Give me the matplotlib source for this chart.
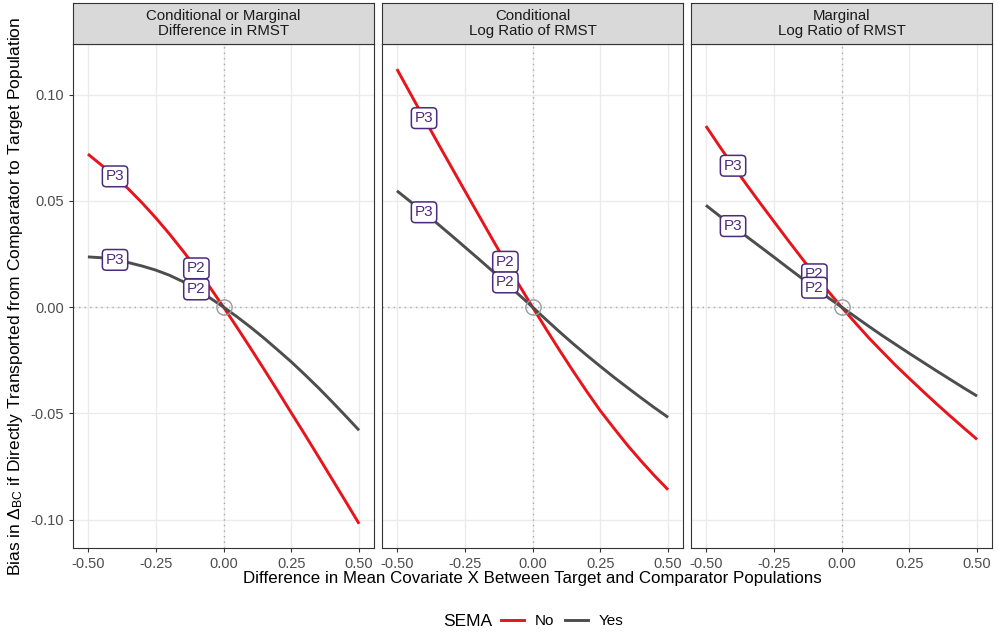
import numpy as np
import matplotlib.pyplot as plt
from matplotlib.lines import Line2D

plt.rcParams["font.family"] = ["Liberation Sans", "DejaVu Sans"]
plt.rcParams["mathtext.fontset"] = "custom"
plt.rcParams["mathtext.rm"] = "Liberation Sans"
plt.rcParams["mathtext.it"] = "Liberation Sans:italic"

# mean covariate difference
x = [-0.5, -0.45, -0.4, -0.35, -0.3, -0.25, -0.2, -0.15, -0.1, -0.05, 0.0,
     0.05, 0.1, 0.15, 0.2, 0.25, 0.3, 0.35, 0.4, 0.45, 0.5]

panel_titles = [
    "Conditional or Marginal\nDifference in RMST",
    "Conditional\nLog Ratio of RMST",
    "Marginal\nLog Ratio of RMST",
]

# SEMA = No
no_diff = [0.0720, 0.0668, 0.0615, 0.0555, 0.0490, 0.0420, 0.0345, 0.0265, 0.0182, 0.0093, 0.0,
           -0.0096, -0.0194, -0.0294, -0.0395, -0.0498, -0.0600, -0.0704, -0.0809, -0.0914, -0.1020]
no_cond = [0.1120, 0.1004, 0.0889, 0.0774, 0.0661, 0.0548, 0.0436, 0.0324, 0.0213, 0.0105, 0.0,
           -0.0103, -0.0204, -0.0302, -0.0397, -0.0488, -0.0570, -0.0650, -0.0724, -0.0794, -0.0860]
no_marg = [0.0852, 0.0757, 0.0665, 0.0576, 0.0489, 0.0404, 0.0319, 0.0236, 0.0154, 0.0076, 0.0,
           -0.0073, -0.0144, -0.0210, -0.0275, -0.0336, -0.0396, -0.0455, -0.0512, -0.0568, -0.0623]

# SEMA = Yes
yes_diff = [0.0236, 0.0232, 0.0222, 0.0209, 0.0193, 0.0174, 0.0150, 0.0120, 0.0083, 0.0043, 0.0,
            -0.0046, -0.0095, -0.0147, -0.0202, -0.0258, -0.0318, -0.0380, -0.0445, -0.0512, -0.0580]
yes_cond = [0.0547, 0.0496, 0.0446, 0.0392, 0.0338, 0.0283, 0.0228, 0.0172, 0.0116, 0.0058, 0.0,
            -0.0059, -0.0117, -0.0173, -0.0227, -0.0279, -0.0330, -0.0379, -0.0427, -0.0474, -0.0519]
yes_marg = [0.0479, 0.0429, 0.0381, 0.0332, 0.0284, 0.0236, 0.0187, 0.0139, 0.0091, 0.0045, 0.0,
            -0.0045, -0.0090, -0.0134, -0.0176, -0.0218, -0.0259, -0.0300, -0.0340, -0.0380, -0.0419]

# point labels sit on the curves at these x values
label_x = {"P3": -0.4, "P2": -0.1}

x_ticks = [-0.5, -0.25, 0.0, 0.25, 0.5]
y_ticks = [-0.10, -0.05, 0.0, 0.05, 0.10]

RED = "#E8141C"
GREY = "#4D4D4D"
PURPLE = "#4B2A7B"


def main():
    fig = plt.figure(figsize=(9.98, 6.33), dpi=100)
    W, H = 998, 633
    lefts = [73, 382, 691]
    pw = 301
    top, bottom = 44, 548
    strip_h = 41

    series = [(no_diff, yes_diff), (no_cond, yes_cond), (no_marg, yes_marg)]
    xa = np.array(x)
    for i, (no, yes) in enumerate(series):
        ax = fig.add_axes([lefts[i] / W, 1 - bottom / H, pw / W, (bottom - top) / H])
        ax.set_xlim(-0.555, 0.555)
        ax.set_ylim(-0.1134, 0.1238)
        ax.set_xticks(x_ticks)
        ax.set_yticks(y_ticks)
        ax.set_xticklabels(["-0.50", "-0.25", "0.00", "0.25", "0.50"])
        ax.grid(color="#EBEBEB", linewidth=1.0)
        ax.set_axisbelow(True)
        for s in ax.spines.values():
            s.set_color("#333333")
            s.set_linewidth(0.8)
        ax.tick_params(colors="#333333", labelcolor="#4D4D4D", labelsize=10.5, length=3, width=0.8)
        if i == 0:
            ax.set_yticklabels(["-0.10", "-0.05", "0.00", "0.05", "0.10"])
        else:
            ax.tick_params(axis="y", length=0, labelleft=False)

        ax.axhline(0, color="#AAAAAA", linestyle=(0, (1, 3)), linewidth=1.0, zorder=1)
        ax.axvline(0, color="#AAAAAA", linestyle=(0, (1, 3)), linewidth=1.0, zorder=1)

        ax.plot(xa, no, color=RED, linewidth=2.1, zorder=3, solid_capstyle="butt")
        ax.plot(xa, yes, color=GREY, linewidth=2.1, zorder=3, solid_capstyle="butt")

        ax.plot([0], [0], marker="o", markersize=11, markerfacecolor="none",
                markeredgecolor="#999999", markeredgewidth=1.0, zorder=4)

        for curve in (no, yes):
            for lab, lx in label_x.items():
                ly = curve[x.index(lx)]
                ax.text(lx, ly, lab, ha="center", va="center", fontsize=11, color=PURPLE, zorder=5,
                        bbox=dict(boxstyle="round,pad=0.22,rounding_size=0.25", facecolor="white",
                                  edgecolor=PURPLE, linewidth=1.1))

        # facet strip
        sax = fig.add_axes([lefts[i] / W, 1 - top / H, pw / W, strip_h / H])
        sax.set_facecolor("#D9D9D9")
        sax.set_xticks([])
        sax.set_yticks([])
        for s in sax.spines.values():
            s.set_color("#333333")
            s.set_linewidth(0.8)
        sax.text(0.5, 0.5, panel_titles[i], ha="center", va="center", fontsize=10.8,
                 color="#1A1A1A", linespacing=1.1, transform=sax.transAxes)

    fig.text(532 / W, 1 - 579 / H, "Difference in Mean Covariate X Between Target and Comparator Populations",
             ha="center", va="center", fontsize=12.2)
    fig.text(16 / W, 1 - 296 / H,
             r"Bias in $\Delta_{\mathrm{BC}}$ if Directly Transported from Comparator to Target Population",
             ha="center", va="center", rotation=90, fontsize=12.5)

    fig.text(468 / W, 1 - 621 / H, "SEMA", ha="center", va="center", fontsize=12.5)
    handles = [Line2D([], [], color=RED, linewidth=2.1), Line2D([], [], color=GREY, linewidth=2.1)]
    fig.legend(handles, ["No", "Yes"], loc="center left", bbox_to_anchor=(501 / W, 1 - 621 / H),
               ncol=2, frameon=False, fontsize=11, handlelength=1.5, handletextpad=0.7,
               columnspacing=0.7, borderpad=0, borderaxespad=0)

    fig.savefig("out.png", dpi=100)
    plt.close(fig)


if __name__ == "__main__":
    main()
